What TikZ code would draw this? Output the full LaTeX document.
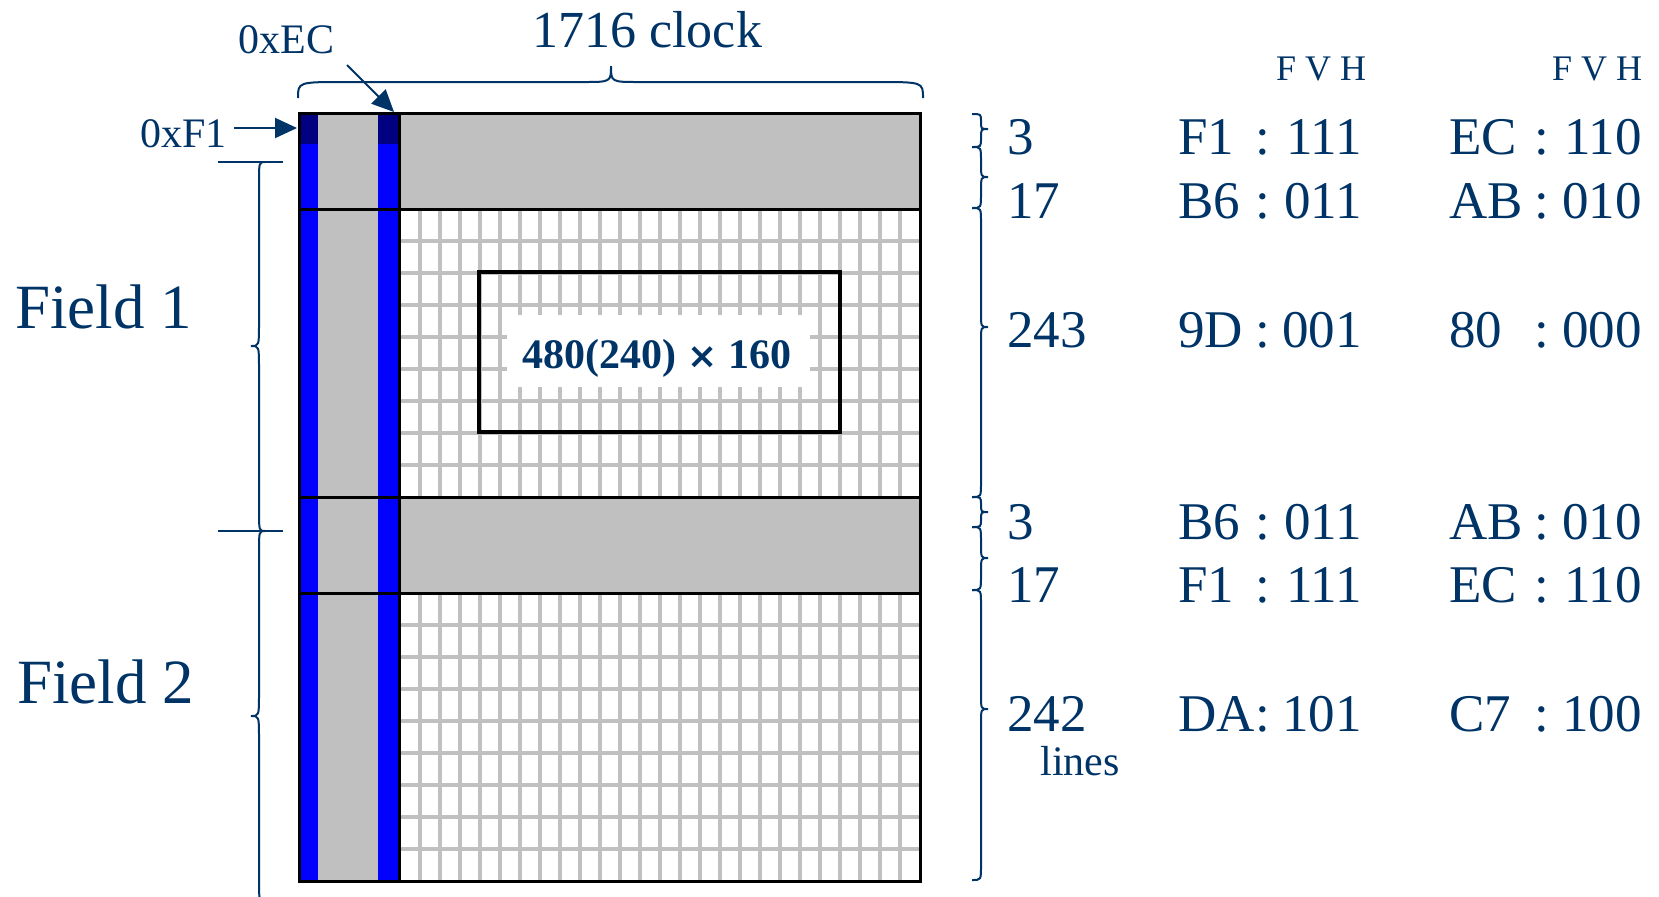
\documentclass[tikz,border=0pt]{standalone}
\usepackage{fontspec}
\setmainfont{Liberation Serif}
\newfontfamily\signfont{DejaVu Sans}
\usetikzlibrary{arrows.meta}
\definecolor{ink}{RGB}{0,51,102}
\definecolor{cellgray}{RGB}{192,192,192}
\definecolor{syncblue}{RGB}{0,0,255}
\definecolor{syncnavy}{RGB}{0,0,128}

% "}"-shaped brace on the right of the frame: top, tip, bottom (y values)
\newcommand\vbraceR[3]{%
  \pgfmathsetmacro\bra{min(14,(#2-#1)/2)}%
  \pgfmathsetmacro\brb{min(14,(#3-#2)/2)}%
  \draw[brace] (972,#1) .. controls (981,#1) .. (981,#1+\bra) -- (981,#2-\bra)
    .. controls (981,#2) .. (988,#2) .. controls (981,#2) .. (981,#2+\brb)
    -- (981,#3-\brb) .. controls (981,#3) .. (972,#3);}

% "{"-shaped brace on the left of the frame: top, tip, bottom (y values)
\newcommand\vbraceL[3]{%
  \draw[brace] (265,#1) .. controls (259,#1) .. (259,#1+22) -- (259,#2-22)
    .. controls (259,#2) .. (251,#2) .. controls (259,#2) .. (259,#2+22)
    -- (259,#3-22) .. controls (259,#3) .. (265,#3);}

\begin{document}
\begin{tikzpicture}[x=0.5pt,y=-0.5pt,
  txt/.style={inner sep=0pt, text=ink},
  rowtxt/.style={txt, font=\fontsize{26.5}{30}\selectfont},
  smalltxt/.style={txt, font=\fontsize{21}{24}\selectfont},
  brace/.style={draw=ink, line width=1pt},
  pointer/.style={draw=ink, line width=1pt, -{Triangle[length=11pt,width=10pt]}},
  gridline/.style={draw=cellgray, line width=1.6pt},
  frame/.style={draw=black, line width=1.5pt},
]
\useasboundingbox (0,0) rectangle (1659,896);
\clip (0,0) rectangle (1659,896);

% blanking bands and blanking column
\fill[cellgray] (299,113) rectangle (920,209);
\fill[cellgray] (299,497) rectangle (920,593);
\fill[cellgray] (318,113) rectangle (378,881);

% sync columns (EAV / SAV)
\fill[syncblue] (299,113) rectangle (318,881);
\fill[syncblue] (378,113) rectangle (399,881);
\fill[syncnavy] (299,113) rectangle (318,144);
\fill[syncnavy] (378,113) rectangle (399,144);

% active video grids
\foreach \gx in {420,440,...,900} {
  \draw[gridline] (\gx,209) -- (\gx,497);
  \draw[gridline] (\gx,593) -- (\gx,881);
}
\foreach \gy in {241,273,...,465} \draw[gridline] (399,\gy) -- (920,\gy);
\foreach \gy in {625,657,...,849} \draw[gridline] (399,\gy) -- (920,\gy);

% capture window
\node[draw=black, line width=2pt, inner sep=0pt, minimum width=180.5pt,
      minimum height=80pt] (win) at (659.5,352) {};
\node[fill=white, inner sep=0pt, minimum width=151.5pt, minimum height=36pt]
      (winbg) at (658.5,351) {};
\node[txt, font=\bfseries\fontsize{21}{24}\selectfont, anchor=base]
      (winlabel) at (657,368) {480(240) {\signfont\fontsize{18}{20}\selectfont ×} 160};

% frame lines
\draw[frame] (299,113) rectangle (920,881);
\draw[frame] (299,209) -- (920,209);
\draw[frame] (299,497) -- (920,497);
\draw[frame] (299,593) -- (920,593);
\draw[frame] (399,113) -- (399,881);

% top brace and label
\draw[brace] (298,98) .. controls (298,82) .. (345,82) -- (583,82)
  .. controls (611,82) .. (611,66) .. controls (611,82) .. (639,82)
  -- (876,82) .. controls (923,82) .. (923,98);
\node[txt, font=\fontsize{26}{30}\selectfont, anchor=base west] (clk) at (532,47) {1716 clock};

% sync code pointers
\node[smalltxt, anchor=base west] (ec) at (238,53) {0xEC};
\node[smalltxt, anchor=base east] (f1) at (227,147) {0xF1};
\coordinate (ecfrom) at (347,65);
\coordinate (ecto) at (394,112);
\coordinate (f1from) at (234,128);
\coordinate (f1to) at (297,128);
\draw[pointer] (ecfrom) -- (ecto);
\draw[pointer] (f1from) -- (f1to);

% field braces
\draw[brace] (218,162) -- (283,162);
\draw[brace] (218,531) -- (283,531);
\vbraceL{162}{346}{531}
\vbraceL{531}{716}{901}
\node[txt, font=\fontsize{31.5}{36}\selectfont, anchor=base west] (fld1) at (15,328) {Field 1};
\node[txt, font=\fontsize{31.5}{36}\selectfont, anchor=base west] (fld2) at (17,703) {Field 2};

% line count braces
\vbraceR{114}{129}{147}
\vbraceR{147}{177}{208}
\vbraceR{208}{327}{497}
\vbraceR{497}{512}{527}
\vbraceR{527}{558}{590}
\vbraceR{590}{709}{880}

% column headings
\node[txt, font=\fontsize{18}{20}\selectfont, anchor=base] (hdra) at (1321,80) {F V H};
\node[txt, font=\fontsize{18}{20}\selectfont, anchor=base] (hdrb) at (1597,80) {F V H};

% line counts and SAV / EAV codes
\foreach \i/\yy/\cnt/\ha/\ba/\hb/\bb in {
    1/154/3/F1/111/EC/110,
    2/218/17/B6/011/AB/010,
    3/347/243/9D/001/80/000,
    4/539/3/B6/011/AB/010,
    5/602/17/F1/111/EC/110,
    6/731/242/DA/101/C7/100} {
  \node[rowtxt, anchor=base west] (cnt\i) at (1007,\yy) {\cnt};
  \node[rowtxt, anchor=base west] (hexa\i) at (1178,\yy) {\ha};
  \node[rowtxt, anchor=base] (cola\i) at (1263,\yy) {:};
  \node[rowtxt, anchor=base east] (bita\i) at (1362,\yy) {\ba};
  \node[rowtxt, anchor=base west] (hexb\i) at (1449,\yy) {\hb};
  \node[rowtxt, anchor=base] (colb\i) at (1542,\yy) {:};
  \node[rowtxt, anchor=base east] (bitb\i) at (1642,\yy) {\bb};
}
\node[smalltxt, anchor=base west] (lines) at (1040,775) {lines};
\end{tikzpicture}
\end{document}
